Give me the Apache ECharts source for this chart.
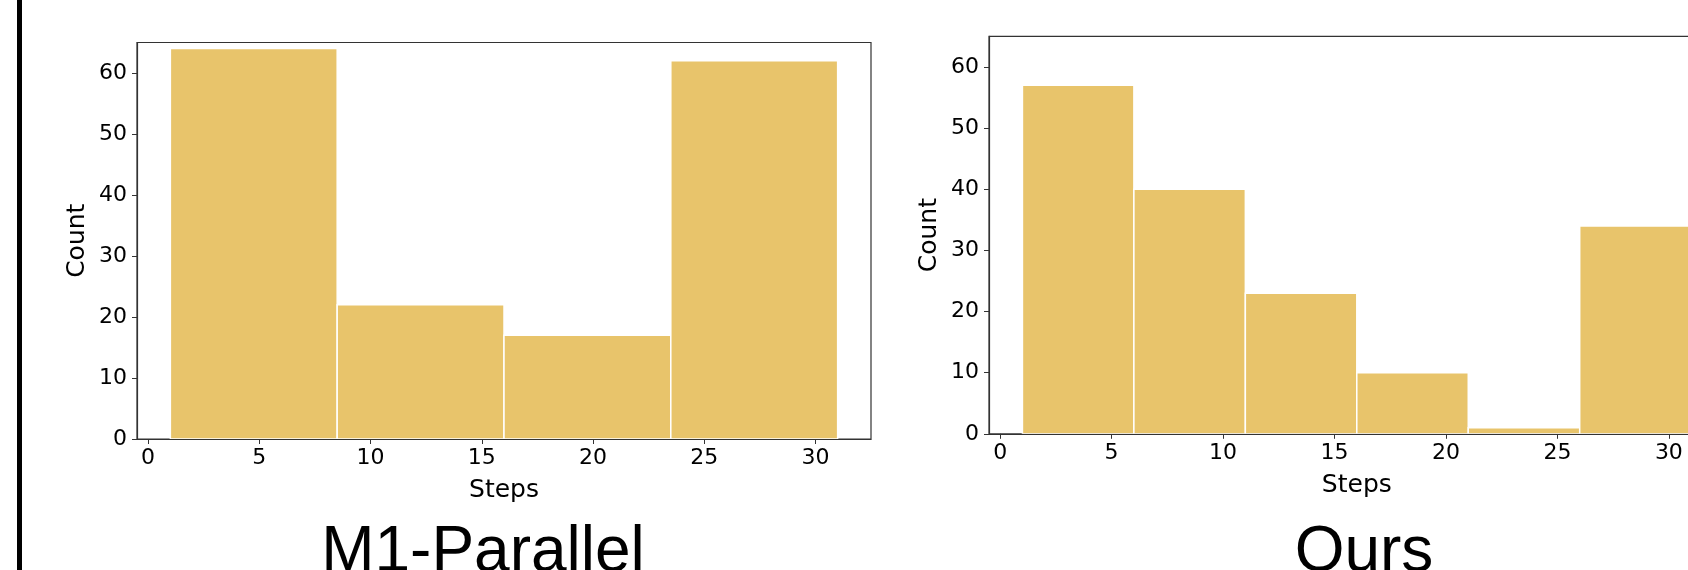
<!DOCTYPE html>
<html>
<head>
<meta charset="utf-8">
<script src="https://cdn.jsdelivr.net/npm/echarts@6/dist/echarts.min.js"></script>
<style>
html,body{margin:0;padding:0;background:#fff;}
#main{width:1688px;height:570px;}
</style>
</head>
<body>
<div id="main"></div>
<script>
// Data
const leftTitle = 'M1-Parallel';
const rightTitle = 'Ours';
const leftEdges = [1, 8.5, 16, 23.5, 31];
const leftCounts = [64, 22, 17, 62];
const rightEdges = [1, 6, 11, 16, 21, 26, 31];
const rightCounts = [57, 40, 23, 10, 1, 34];
const xTicks = [0, 5, 10, 15, 20, 25, 30];
const yTicks = [0, 10, 20, 30, 40, 50, 60];
const xName = 'Steps';
const yName = 'Count';

function binsData(edges, counts) {
  return counts.map((c, i) => [edges[i], edges[i + 1], c]);
}

const barColor = '#E8C46B';
const spineColor = '#333333';
const tickFont = { fontFamily: 'DejaVu Sans', fontSize: 22, color: '#000' };
const nameFont = { fontFamily: 'DejaVu Sans', fontSize: 25, color: '#000' };

function makeX(gridIndex) {
  return {
    type: 'value', gridIndex, min: -0.5, max: 32.5,
    splitLine: { show: false },
    axisLine: { show: true, onZero: false, lineStyle: { color: spineColor, width: 1.2 } },
    axisTick: { show: true, length: 5, inside: false, customValues: xTicks, lineStyle: { color: spineColor } },
    axisLabel: Object.assign({ margin: 8, customValues: xTicks }, tickFont),
    name: xName, nameLocation: 'middle', nameGap: 39, nameTextStyle: nameFont
  };
}
function makeY(gridIndex) {
  return {
    type: 'value', gridIndex, min: 0, max: 65,
    splitLine: { show: false },
    axisLine: { show: true, onZero: false, lineStyle: { color: spineColor, width: 1.2 } },
    axisTick: { show: true, length: 5, inside: false, customValues: yTicks, lineStyle: { color: spineColor } },
    axisLabel: Object.assign({ margin: 10, customValues: yTicks }, tickFont),
    name: yName, nameLocation: 'middle', nameGap: 47, nameRotate: 90, nameTextStyle: nameFont
  };
}

function renderBin(params, api) {
  const x0 = api.value(0), x1 = api.value(1), c = api.value(2);
  const p0 = api.coord([x0, c]);
  const p1 = api.coord([x1, 0]);
  return {
    type: 'rect',
    shape: { x: p0[0], y: p0[1], width: p1[0] - p0[0], height: p1[1] - p0[1] },
    style: { fill: barColor, stroke: '#ffffff', lineWidth: 1.5 }
  };
}

const chart = echarts.init(document.getElementById('main'), null, { renderer: 'canvas' });
chart.setOption({
  backgroundColor: '#ffffff',
  animation: false,
  grid: [
    { left: 137, top: 42.5, width: 734, height: 396.5, outerBoundsMode: 'none', containLabel: false, show: true, borderColor: spineColor, borderWidth: 1.2, backgroundColor: 'transparent' },
    { left: 989, top: 36.4, width: 735.6, height: 397.4, outerBoundsMode: 'none', containLabel: false, show: true, borderColor: spineColor, borderWidth: 1.2, backgroundColor: 'transparent' }
  ],
  xAxis: [makeX(0), makeX(1)],
  yAxis: [makeY(0), makeY(1)],
  series: [
    { type: 'custom', xAxisIndex: 0, yAxisIndex: 0, renderItem: renderBin, data: binsData(leftEdges, leftCounts), encode: { x: [0, 1], y: 2 }, clip: true },
    { type: 'custom', xAxisIndex: 1, yAxisIndex: 1, renderItem: renderBin, data: binsData(rightEdges, rightCounts), encode: { x: [0, 1], y: 2 }, clip: true }
  ],
  graphic: [
    { type: 'rect', left: 17, top: 0, shape: { width: 5, height: 570 }, style: { fill: '#000' } },
    { type: 'text', x: 483, y: 553.5, style: { text: leftTitle, font: '64px "Liberation Sans", Arial, sans-serif', fill: '#000', align: 'center', verticalAlign: 'middle' } },
    { type: 'text', x: 1364, y: 553.5, style: { text: rightTitle, font: '64px "Liberation Sans", Arial, sans-serif', fill: '#000', align: 'center', verticalAlign: 'middle' } }
  ]
});
</script>
</body>
</html>
